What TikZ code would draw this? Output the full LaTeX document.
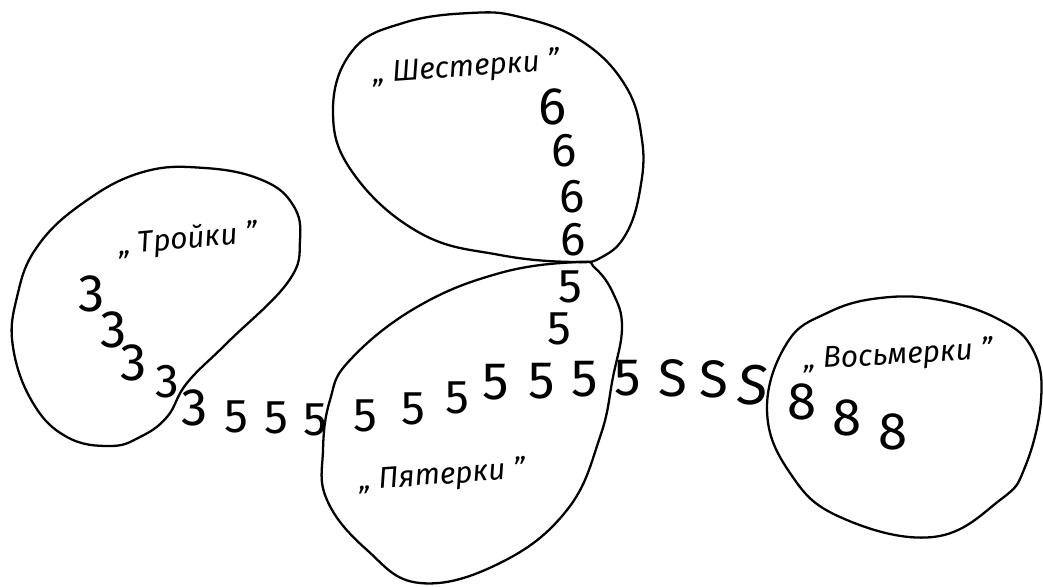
\documentclass[tikz,border=0pt]{standalone}
\usepackage{fontspec}
\newfontfamily\digitfont{Fira Sans}
\newfontfamily\labelfont{Fira Sans}
\usetikzlibrary{positioning}

\begin{document}
\begin{tikzpicture}[x=0.02cm, y=-0.02cm,
  blob/.style={draw, line width=1.3pt, line join=round},
  dig/.style={font=\digitfont\fontsize{27}{27}\selectfont, inner sep=0pt},
  bigdig/.style={font=\digitfont\fontsize{30}{30}\selectfont, inner sep=0pt},
  lbl/.style={font=\labelfont\itshape\fontsize{17}{17}\selectfont, inner sep=0pt}
]
\useasboundingbox (0,0) rectangle (1043,586);

% the four regions
\draw[blob] plot[smooth cycle, tension=0.7] coordinates {
  (143,172) (205,168) (262,180) (293,205) (300,240) (288,282) (227,343)
  (187,383) (167,417) (140,437) (110,446) (67,437) (33,403) (13,347)
  (17,297) (37,247) (83,203)};
\draw[blob] plot[smooth cycle, tension=0.7] coordinates {
  (574,262) (602,257) (626,234) (640,190) (642,140) (625,85) (580,40)
  (520,17) (470,13) (403,23) (353,50) (333,110) (353,173) (420,233) (500,255)};
\draw[blob] plot[smooth cycle, tension=0.7] coordinates {
  (578,262) (500,273) (417,307) (350,360) (330,400) (323,450) (327,500)
  (367,550) (420,583) (500,563) (567,510) (600,437) (613,377) (622,327)
  (613,293) (595,268)};
\draw[blob] plot[smooth cycle, tension=0.7] coordinates {
  (880,298) (827,313) (787,343) (767,410) (790,473) (840,517) (933,537)
  (1000,500) (1025,467) (1041,400) (1033,350) (1000,320) (940,300)};

% labels
\node[lbl, rotate=5] (troiki) at (188,240) {„ Тройки ”};
\node[lbl, rotate=4] (shesterki) at (466,68) {„ Шестерки ”};
\node[lbl, rotate=4] (pyaterki) at (442,476) {„ Пятерки ”};
\node[lbl, rotate=3] (vosmerki) at (898,356) {„ Восьмерки ”};

% threes
\node[bigdig] (t1) at (92,294) {3};
\node[bigdig] (t2) at (114,330) {3};
\node[bigdig] (t3) at (134,363) {3};
\node[dig] (t4) at (167,382) {3};
\node[bigdig] (t5) at (195,408) {3};

% the row of fives
\node[dig] (f1) at (236,417) {5};
\node[dig] (f2) at (276,418) {5};
\node[dig] (f3) at (315,420) {5};
\node[dig] (f4) at (365,416) {5};
\node[dig] (f5) at (413,409) {5};
\node[dig] (f6) at (457,398) {5};
\node[bigdig] (f7) at (496,382) {5};
\node[bigdig] (f8) at (542,381) {5};
\node[bigdig] (f9) at (585,379) {5};
\node[bigdig] (f10) at (628,378) {5};

% fives turning into eights
\node[bigdig] (s1) at (673,378) {S};
\node[bigdig] (s2) at (714,379) {S};
\node[bigdig, font=\digitfont\itshape\fontsize{32}{32}\selectfont] (s3) at (753,385) {S};
\node[bigdig] (e1) at (802,402) {8};
\node[bigdig] (e2) at (847,418) {8};
\node[bigdig] (e3) at (893,432) {8};

% the column of sixes and fives
\node[bigdig] (x1) at (553,107) {6};
\node[dig] (x2) at (564,151) {6};
\node[dig] (x3) at (572,197) {6};
\node[dig] (x4) at (573,240) {6};
\node[dig] (v1) at (570,287) {5};
\node[dig] (v2) at (559,329) {5};
\end{tikzpicture}
\end{document}
